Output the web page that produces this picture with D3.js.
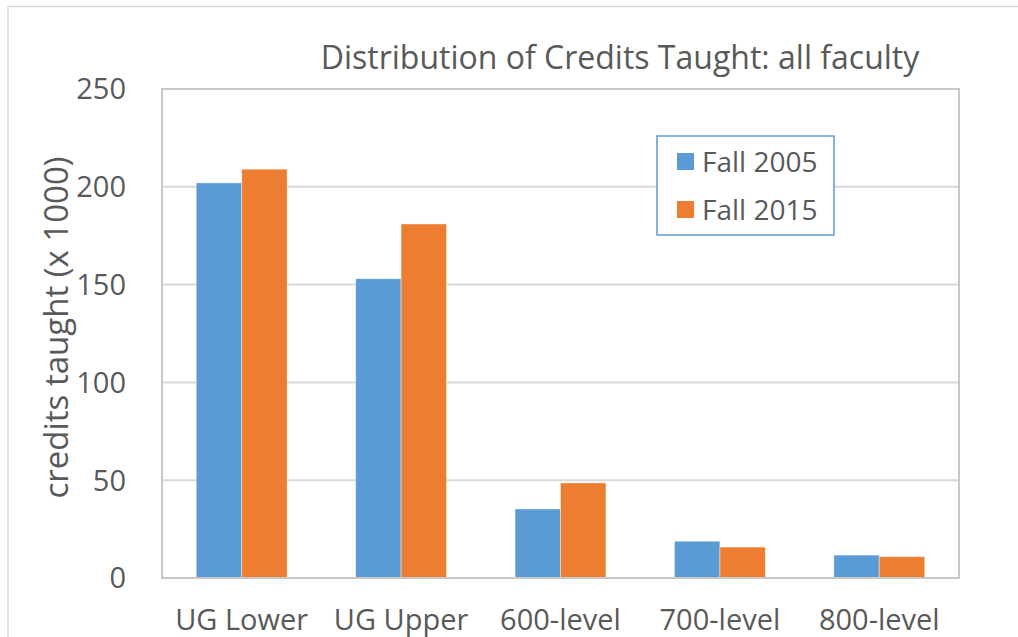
<!DOCTYPE html>
<html>
<head>
<meta charset="utf-8">
<script src="https://cdn.jsdelivr.net/npm/d3@7"></script>
<style>
  body { margin: 0; background: #fff; }
  text { font-family: "Open Sans", "Noto Sans", sans-serif; fill: #595959; }
</style>
</head>
<body>
<svg id="chart" width="1018" height="637"></svg>
<script>
// data
var categories = ["UG Lower", "UG Upper", "600-level", "700-level", "800-level"];
var seriesNames = ["Fall 2005", "Fall 2015"];
var fall2005 = [202, 153, 35.3, 18.8, 11.7];
var fall2015 = [209, 181, 48.6, 15.8, 10.9];
var yTicks = [0, 50, 100, 150, 200, 250];
var colors = ["#5b9bd5", "#ed7d31"];

var svg = d3.select("#chart"),
  width = +svg.attr("width"),
  height = +svg.attr("height");

// outer chart border (only top/left visible in the picture)
svg.append("line").attr("x1", 8).attr("x2", width).attr("y1", 6.5).attr("y2", 6.5)
  .attr("stroke", "#d9d9d9").attr("stroke-width", 1.5);
svg.append("line").attr("x1", 8).attr("x2", 8).attr("y1", 6).attr("y2", height)
  .attr("stroke", "#d9d9d9").attr("stroke-width", 1.5);

var margin = { left: 162, top: 89, right: 1018 - 959, bottom: 637 - 578 };
var w = width - margin.left - margin.right,
  h = height - margin.top - margin.bottom;

var g = svg.append("g").attr("transform", "translate(" + margin.left + "," + margin.top + ")");

var y = d3.scaleLinear().domain([0, 250]).range([h, 0]);
var x0 = d3.scaleBand().domain(categories).range([0, w]).paddingInner(0.43).paddingOuter(0.215);
var x1 = d3.scaleBand().domain(seriesNames).range([0, x0.bandwidth()]);

// gridlines
g.selectAll(".grid")
  .data(yTicks.filter(function (d) { return d > 0 && d < 250; }))
  .enter()
  .append("line")
  .attr("x1", 0).attr("x2", w)
  .attr("y1", function (d) { return y(d); })
  .attr("y2", function (d) { return y(d); })
  .attr("stroke", "#d9d9d9").attr("stroke-width", 2);

// y tick labels
g.selectAll(".ytick")
  .data(yTicks)
  .enter()
  .append("text")
  .attr("x", -36)
  .attr("y", function (d) { return y(d); })
  .attr("dy", "0.36em")
  .attr("text-anchor", "end")
  .style("font-size", "29px")
  .text(function (d) { return d; });

// bars
var rows = categories.map(function (c, i) {
  return { cat: c, values: [fall2005[i], fall2015[i]] };
});

var groups = g.selectAll(".grp")
  .data(rows)
  .enter()
  .append("g")
  .attr("transform", function (d) { return "translate(" + x0(d.cat) + ",0)"; });

groups.selectAll("rect")
  .data(function (d) { return d.values.map(function (v, j) { return { s: seriesNames[j], v: v, j: j }; }); })
  .enter()
  .append("rect")
  .attr("x", function (d) { return x1(d.s); })
  .attr("width", x1.bandwidth())
  .attr("y", function (d) { return y(d.v); })
  .attr("height", function (d) { return h - y(d.v); })
  .attr("fill", function (d) { return colors[d.j]; })
  .attr("stroke", "#fff")
  .attr("stroke-opacity", 0.4)
  .attr("stroke-width", 1);

// plot area border
g.append("rect")
  .attr("x", 0).attr("y", 0).attr("width", w).attr("height", h)
  .attr("fill", "none").attr("stroke", "#c8c8c8").attr("stroke-width", 2);

// x labels
g.selectAll(".xlab")
  .data(categories)
  .enter()
  .append("text")
  .attr("x", function (d) { return x0(d) + x0.bandwidth() / 2; })
  .attr("y", h + 52)
  .attr("text-anchor", "middle")
  .style("font-size", "29px")
  .text(function (d) { return d; });

// title
svg.append("text")
  .attr("x", 620).attr("y", 69)
  .attr("text-anchor", "middle")
  .style("font-size", "32px")
  .text("Distribution of Credits Taught: all faculty");

// y axis title
svg.append("text")
  .attr("transform", "translate(68," + (margin.top + h / 2 - 6) + ") rotate(-90)")
  .attr("text-anchor", "middle")
  .style("font-size", "33px")
  .text("credits taught (x 1000)");

// legend
var legend = svg.append("g").attr("transform", "translate(657,136)");
legend.append("rect")
  .attr("width", 177).attr("height", 99)
  .attr("fill", "#fff").attr("stroke", "#5b9bd5").attr("stroke-width", 1.5);
var items = legend.selectAll(".item")
  .data(seriesNames)
  .enter()
  .append("g")
  .attr("transform", function (d, i) { return "translate(20," + (17 + i * 48) + ")"; });
items.append("rect")
  .attr("width", 17).attr("height", 17)
  .attr("fill", function (d, i) { return colors[i]; });
items.append("text")
  .attr("x", 25).attr("y", 9).attr("dy", "0.36em")
  .style("font-size", "28px")
  .text(function (d) { return d; });
</script>
</body>
</html>
